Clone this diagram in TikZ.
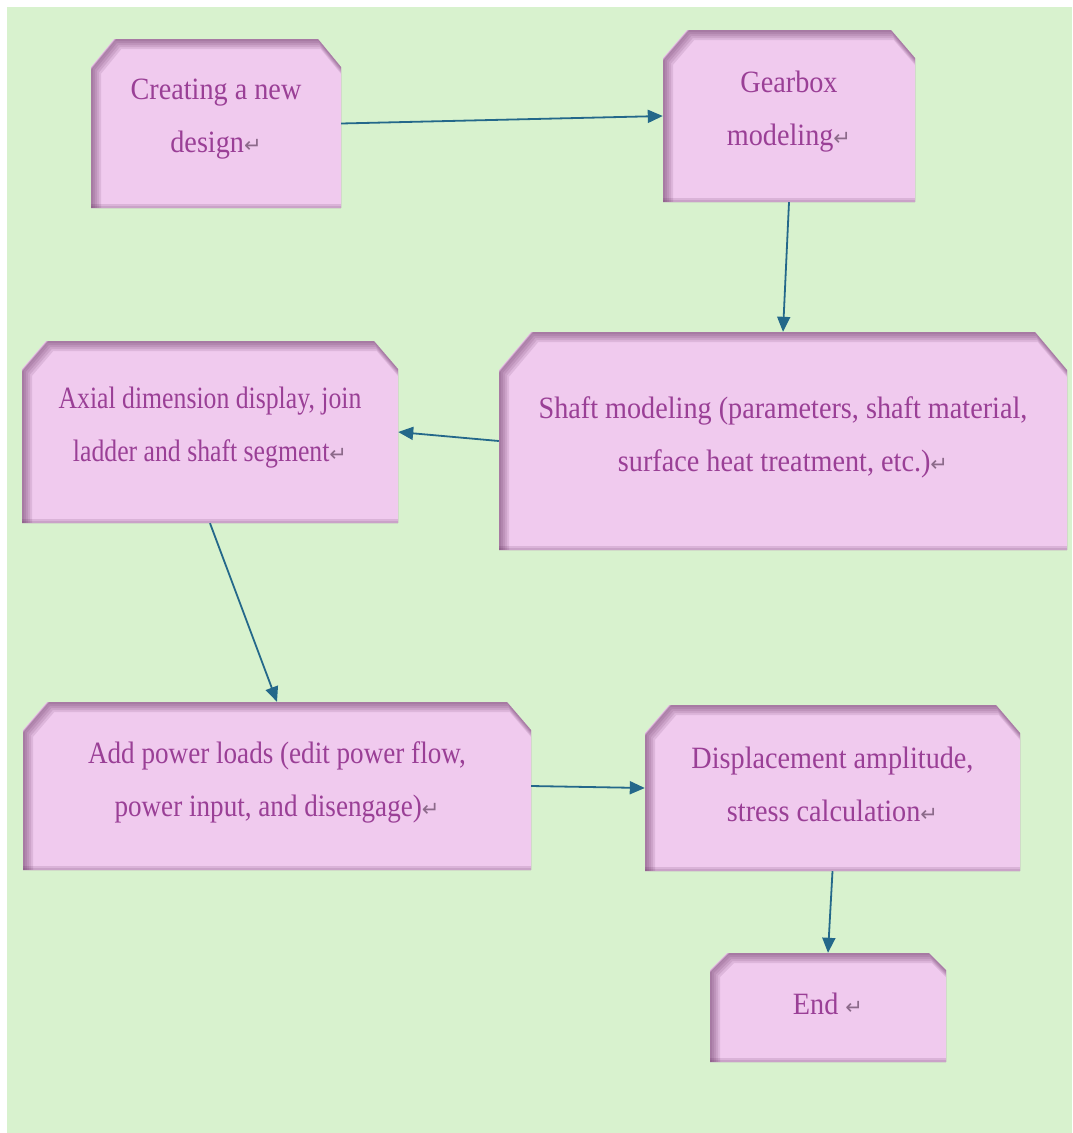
\documentclass[tikz,border=0pt]{standalone}
\usepackage{fontspec}
\setmainfont{Liberation Serif}
\newfontfamily\boxfont[FakeStretch=0.91]{Liberation Serif}
\newfontfamily\boxfontmid[FakeStretch=0.875]{Liberation Serif}
\newfontfamily\boxfontnarrow[FakeStretch=0.83]{Liberation Serif}
\newfontfamily\symfont{DejaVu Sans}
\usetikzlibrary{arrows.meta}
\definecolor{bggreen}{HTML}{D8F2CE}
\definecolor{boxpink}{HTML}{F0CAEE}
\definecolor{shadowpurple}{HTML}{5A2856}
\definecolor{textpurple}{HTML}{9A3F96}
\definecolor{retgray}{HTML}{8C6A8A}
\definecolor{arrowblue}{HTML}{24688A}
\newcommand\ret{{\symfont\fontsize{21}{21}\selectfont\color{retgray}↵}}
\tikzset{
  boxtext/.style={inner sep=0pt, align=center, text=textpurple},
  boxframe/.style={inner sep=0pt, draw=none},
  flowarrow/.style={draw=arrowblue, line width=1.8pt,
    -{Triangle[length=15pt,width=13pt]}},
}
% #1 name, #2 x1, #3 y1, #4 w, #5 h, #6 ch, #7 cv, #8 text, #9 font
\newcommand\flowbox[9]{%
 \begin{scope}[shift={(#2,#3)}]
  \fill[boxpink] (0,#5) -- (0,#7) -- (#6,0) -- ({#4-#6},0) -- (#4,#7) -- (#4,#5) -- cycle;
  \begin{scope}
   \clip (0,#5) -- (0,#7) -- (#6,0) -- ({#4-#6},0) -- (#4,#7) -- (#4,#5) -- cycle;
   \foreach \s in {1,2,3,4,5} {
     \draw[shadowpurple, opacity=0.12, line width={2*\s pt}, shift={(\s,\s)}]
       (0,#5) -- (0,#7) -- (#6,0) -- ({#4-#6},0) -- (#4,#7) -- (#4,#5) -- cycle;
   }
   \fill[shadowpurple, opacity=0.14] (0,{#5-4}) rectangle (#4,#5);
   \fill[shadowpurple, opacity=0.12] (0,{#5-2}) rectangle (#4,#5);
  \end{scope}
  \node[boxframe, minimum width=#4, minimum height=#5] (#1) at ({#4/2},{#5/2}) {};
  \node[boxtext, font=#9\fontsize{31}{53}\selectfont] (#1-t) at ({#4/2},{#5/2-4}) {#8};
 \end{scope}
}
\begin{document}
\begin{tikzpicture}[x=1pt, y=-1pt]
\useasboundingbox (0,0) rectangle (1072,1133);
\fill[white] (0,0) rectangle (1072,1133);
\fill[bggreen] (7,7) rectangle (1072,1133);

\flowbox{A}{91}{39}{250}{169}{23}{28}{Creating a new\\design\ret}{\boxfont}
\flowbox{B}{663}{30}{252}{172}{24}{28}{Gearbox\\modeling\ret}{\boxfont}
\flowbox{C}{499}{332}{568}{218}{32}{38}{Shaft modeling (parameters, shaft material,\\surface heat treatment, etc.)\ret}{\boxfont}
\flowbox{D}{22}{341}{376}{182}{24}{28}{Axial dimension display, join\\ladder and shaft segment\ret}{\boxfontnarrow}
\flowbox{E}{23}{702}{508}{168}{24}{28}{Add power loads (edit power flow,\\power input, and disengage)\ret}{\boxfontmid}
\flowbox{F}{645}{705}{375}{166}{24}{28}{Displacement amplitude,\\stress calculation\ret}{\boxfont}
\flowbox{G}{710}{953}{236}{109}{17}{17}{End \ret}{\boxfont}

\draw[flowarrow] (A.east) -- (B.west);
\draw[flowarrow] (B.south) -- (C.north);
\draw[flowarrow] (C.west) -- (D.east);
\draw[flowarrow] (D.south) -- (E.north);
\draw[flowarrow] (E.east) -- (F.west);
\draw[flowarrow] (F.south) -- (G.north);
\end{tikzpicture}
\end{document}
